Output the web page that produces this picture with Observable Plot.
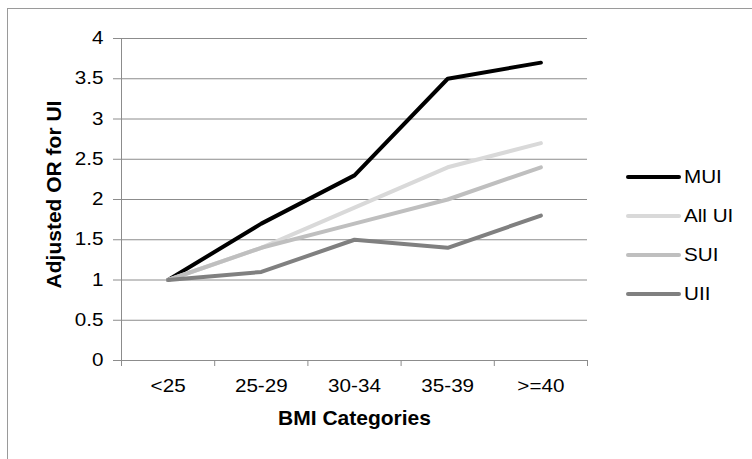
<!DOCTYPE html>
<html>
<head>
<meta charset="utf-8">
<script src="https://cdn.jsdelivr.net/npm/d3@7"></script>
<script src="https://cdn.jsdelivr.net/npm/@observablehq/plot@0.6"></script>
<style>
  html, body { margin: 0; padding: 0; background: #fff; overflow: hidden; }
  #wrap { position: relative; width: 752px; height: 459px; overflow: hidden; font-family: "Liberation Sans", Arial, sans-serif; }
  #frame { position: absolute; left: 7px; top: 8px; width: 900px; height: 600px; border-top: 1px solid #9a9a9a; border-left: 1px solid #9a9a9a; }
  #chart { position: absolute; left: 0; top: 0; }
  .leg { position: absolute; left: 626px; height: 24px; display: flex; align-items: center; font-size: 17.5px; color: #000; }
  .leg .sw { width: 55px; height: 4.5px; border-radius: 2.5px; margin-right: 3px; }
  .leg .tx { display: inline-block; transform: scaleX(1.18); transform-origin: left center; }
</style>
</head>
<body>
<div id="wrap"><div id="frame"></div><div id="chart"></div></div>
<script>
const categories = ["<25", "25-29", "30-34", "35-39", ">=40"];
const seriesNames = ["MUI", "All UI", "SUI", "UII"];
const mui   = [1, 1.7, 2.3, 3.5, 3.7];
const allUI = [1, 1.4, 1.9, 2.4, 2.7];
const sui   = [1, 1.4, 1.7, 2.0, 2.4];
const uii   = [1, 1.1, 1.5, 1.4, 1.8];
const seriesColors = ["#000000", "#d9d9d9", "#bfbfbf", "#808080"];
const yTicks = [0, 0.5, 1, 1.5, 2, 2.5, 3, 3.5, 4];

const values = [mui, allUI, sui, uii];
const rows = [];
seriesNames.forEach((s, k) => values[k].forEach((v, i) => rows.push({series: s, i, v})));
const catIdx = categories.map((_, i) => i);
const edges = categories.map((_, i) => i - 0.5).concat([categories.length - 0.5]);
const grid = "#8c8c8c";

const chart = Plot.plot({
  width: 752, height: 459,
  marginLeft: 121, marginRight: 165, marginTop: 38, marginBottom: 99,
  style: {fontFamily: "'Liberation Sans', Arial, sans-serif", fontSize: "17.5px", background: "transparent", color: "#000", overflow: "visible"},
  x: {type: "linear", domain: [-0.5, categories.length - 0.5]},
  y: {domain: [0, 4]},
  marks: [
    Plot.gridY(yTicks.filter(v => v > 0), {stroke: grid, strokeOpacity: 1}),
    Plot.ruleY([0], {stroke: grid}),
    Plot.ruleX([-0.5], {stroke: grid}),
    Plot.axisY({ticks: yTicks, tickSize: 8, tickPadding: 10, stroke: grid, label: null, fontSize: 17.5, tickFormat: d => String(d)}),
    Plot.axisX({ticks: edges, tickSize: 6, stroke: grid, tickFormat: () => "", label: null}),
    Plot.axisX({ticks: catIdx, tickSize: 0, tickPadding: 19, fontSize: 17.5, tickFormat: i => categories[i], label: null}),
    ...seriesNames.map((s, k) => Plot.line(rows.filter(r => r.series === s), {
      x: "i", y: "v", stroke: seriesColors[k], strokeWidth: 4,
      strokeLinecap: "round", strokeLinejoin: "round"
    })),
    Plot.text(["Adjusted OR for UI"], {frameAnchor: "left", rotate: -90, dx: -67, dy: -5, fontWeight: "bold", fontSize: 21, textAnchor: "middle", lineAnchor: "middle"}),
    Plot.text(["BMI Categories"], {frameAnchor: "bottom", dy: 58, fontWeight: "bold", fontSize: 21, textAnchor: "middle", lineAnchor: "middle"})
  ]
});
// widen the regular tick labels horizontally, as in the reference
chart.querySelectorAll('g[aria-label="y-axis tick label"] text, g[aria-label="x-axis tick label"] text').forEach(t => {
  const tr = t.getAttribute("transform") || "";
  t.setAttribute("transform", (tr + " scale(1.18,1)").trim());
});
document.getElementById("chart").appendChild(chart);

const wrap = document.getElementById("wrap");
seriesNames.forEach((s, k) => {
  const row = document.createElement("div");
  row.className = "leg";
  row.style.top = (165 + k * 39) + "px";
  const sw = document.createElement("span");
  sw.className = "sw";
  sw.style.background = seriesColors[k];
  const t = document.createElement("span");
  t.className = "tx";
  t.textContent = s;
  row.appendChild(sw);
  row.appendChild(t);
  wrap.appendChild(row);
});
</script>
</body>
</html>
